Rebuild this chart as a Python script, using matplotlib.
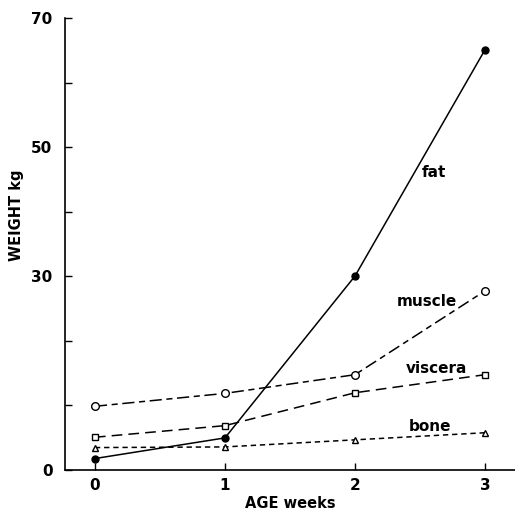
import matplotlib
matplotlib.use("Agg")
import matplotlib.pyplot as plt

weeks = [0, 1, 2, 3]
fat = [1.7, 4.9, 30.0, 65.1]
muscle = [9.8, 11.8, 14.7, 27.7]
viscera = [5.0, 6.8, 11.9, 14.7]
bone = [3.4, 3.5, 4.6, 5.7]
yticks_major = [0, 30, 50, 70]
yticks_minor = [10, 20, 40, 60]

plt.rcParams['font.family'] = ['DejaVu Sans']
W, H = 515, 513
fig = plt.figure(figsize=(W / 100, H / 100), dpi=100)
ax = fig.add_axes([65 / W, (H - 469.5) / H, 1 - 65 / W, (469.5 - 18) / H])

lw = 1.1
ax.plot(weeks, fat, color='black', lw=lw, ls='-', marker='o', ms=5,
        mfc='black', mec='black')
ax.plot(weeks, muscle, color='black', lw=lw, ls=(0, (8, 3, 4, 3)), marker='o', ms=5.5,
        mfc='white', mec='black')
ax.plot(weeks, viscera, color='black', lw=lw, ls=(0, (7, 4)), marker='s', ms=5,
        mfc='white', mec='black')
ax.plot(weeks, bone, color='black', lw=lw, ls=(0, (3.5, 2.5)), marker='^', ms=5,
        mfc='white', mec='black')

ax.set_xlim(-0.23, 3.23)
ax.set_ylim(0, 70)
ax.set_xticks(weeks)
ax.set_xticklabels([str(w) for w in weeks], fontsize=11, fontweight='bold')
ax.set_yticks(yticks_major)
ax.set_yticklabels([str(v) for v in yticks_major], fontsize=11, fontweight='bold')
ax.set_yticks(yticks_minor, minor=True)
ax.tick_params(axis='both', which='both', direction='in', length=5, width=1)
ax.tick_params(axis='y', pad=9)
ax.tick_params(axis='x', pad=6)
for s in ['top', 'right']:
    ax.spines[s].set_visible(False)
for s in ['left', 'bottom']:
    ax.spines[s].set_linewidth(1.2)

fig.text(290 / W, 1 - 504 / H, 'AGE weeks', fontsize=10.5, fontweight='bold',
         ha='center', va='center')
fig.text(17 / W, 1 - 215 / H, 'WEIGHT kg', fontsize=10.5, fontweight='bold',
         ha='center', va='center', rotation=90)

lab = dict(fontsize=11, fontweight='bold', ha='left', va='center')
ax.text(2.51, 46.1, 'fat', **lab)
ax.text(2.32, 26.0, 'muscle', **lab)
ax.text(2.39, 15.7, 'viscera', **lab)
ax.text(2.41, 6.6, 'bone', **lab)

fig.savefig('out.png', dpi=100)
